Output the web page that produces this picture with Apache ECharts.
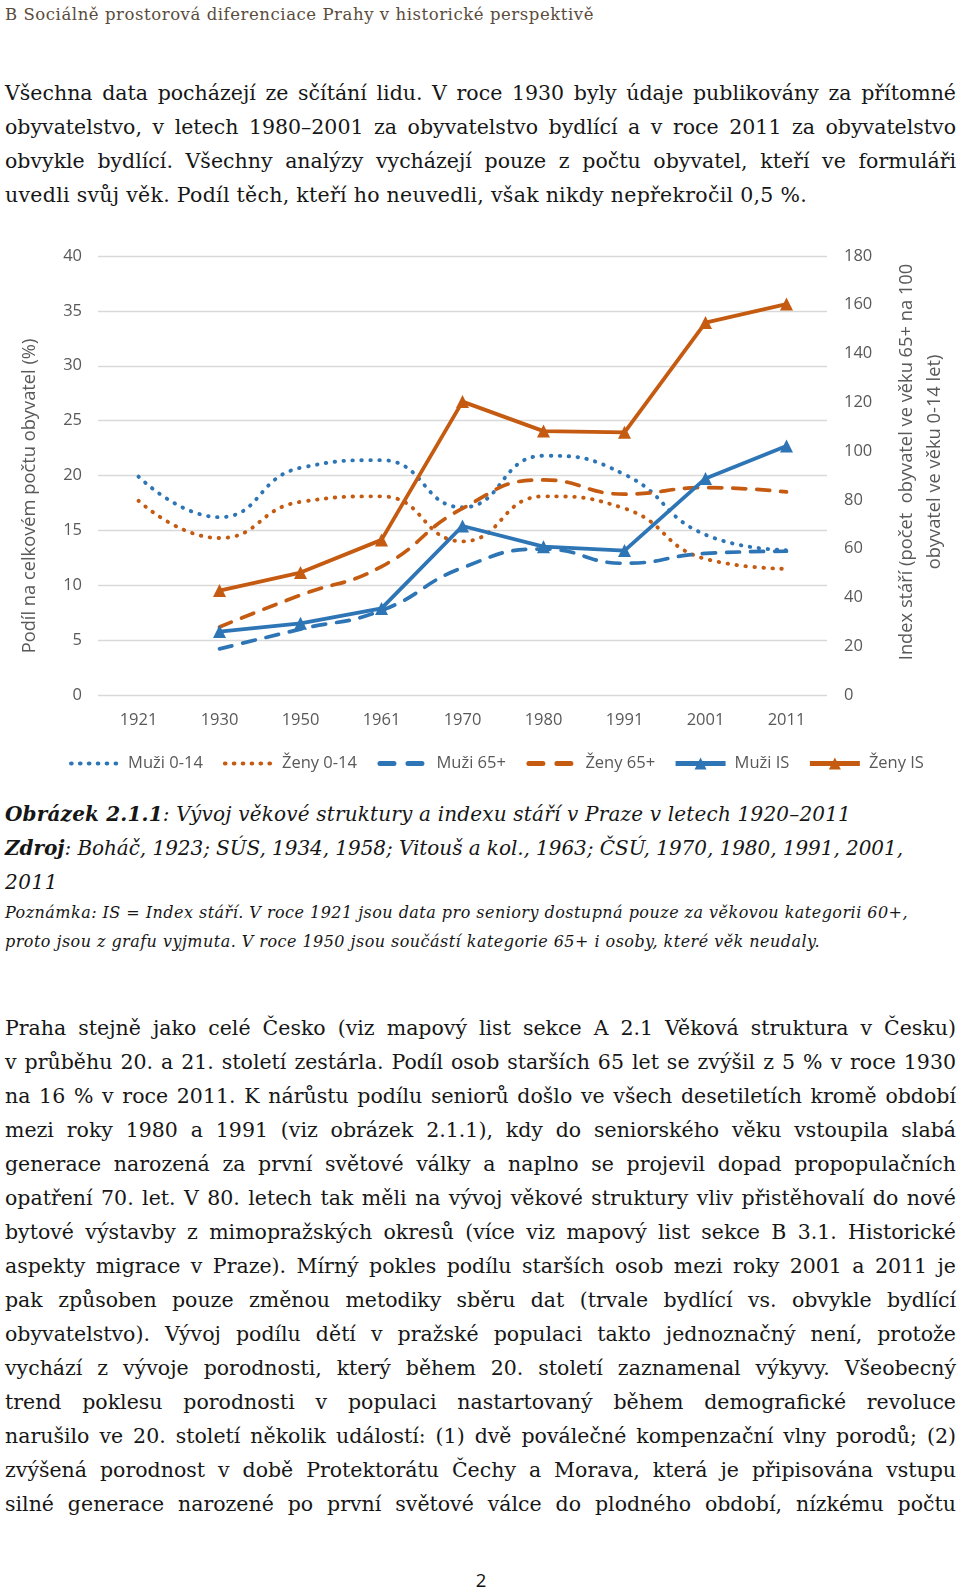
<!DOCTYPE html>
<html>
<head>
<meta charset="utf-8">
<script src="https://cdn.jsdelivr.net/npm/echarts@6/dist/echarts.min.js"></script>
<style>
  html,body{margin:0;padding:0;background:#fff;}
  body{width:960px;height:1589px;position:relative;overflow:hidden;}
  .t{position:absolute;left:5px;font-family:'DejaVu Serif',serif;color:#161616;white-space:nowrap;}
  .it{font-style:italic;}
  .j{text-align:justify;text-align-last:justify;}
  #chart{position:absolute;left:0;top:230px;width:960px;height:560px;}
</style>
</head>
<body>
<div id="chart"></div>
<script>
// ---- chart data ----
const years = ['1921','1930','1950','1961','1970','1980','1991','2001','2011'];
const muzi014 = [19.9, 16.2, 20.7, 21.4, 17.1, 21.8, 20.1, 14.6, 13.2];
const zeny014 = [17.7, 14.3, 17.6, 18.1, 14.0, 18.1, 17.0, 12.4, 11.5];
const muzi65  = [null, 4.2, 6.0, 7.7, 11.6, 13.3, 12.0, 12.9, 13.1];
const zeny65  = [null, 6.2, 9.1, 11.7, 17.0, 19.6, 18.3, 18.9, 18.5];
const muziIS  = [null, 26.0, 29.4, 35.5, 69.3, 60.8, 59.2, 88.8, 102.1];
const zenyIS  = [null, 42.8, 50.2, 63.6, 120.3, 108.2, 107.7, 152.7, 160.3];
const seriesNames = ['Muži 0-14','Ženy 0-14','Muži 65+','Ženy 65+','Muži IS','Ženy IS'];
const leftTicks = {min:0, max:40, interval:5};
const rightTicks = {min:0, max:180, interval:20};
const leftTitle = 'Podíl na celkovém počtu obyvatel (%)';
const rightTitle = 'Index stáří (počet  obyvatel ve věku 65+ na 100\nobyvatel ve věku 0-14 let)';

// ---- page text ----
const headerText = 'B Sociálně prostorová diferenciace Prahy v historické perspektivě';
const para1 = [
  'Všechna data pocházejí ze sčítání lidu. V roce 1930 byly údaje publikovány za přítomné',
  'obyvatelstvo, v letech 1980–2001 za obyvatelstvo bydlící a v roce 2011 za obyvatelstvo',
  'obvykle bydlící. Všechny analýzy vycházejí pouze z počtu obyvatel, kteří ve formuláři',
  'uvedli svůj věk. Podíl těch, kteří ho neuvedli, však nikdy nepřekročil 0,5 %.'
];
const para2 = [
  'Praha stejně jako celé Česko (viz mapový list sekce A 2.1 Věková struktura v Česku)',
  'v průběhu 20. a 21. století zestárla. Podíl osob starších 65 let se zvýšil z 5 % v roce 1930',
  'na 16 % v roce 2011. K nárůstu podílu seniorů došlo ve všech desetiletích kromě období',
  'mezi roky 1980 a 1991 (viz obrázek 2.1.1), kdy do seniorského věku vstoupila slabá',
  'generace narozená za první světové války a naplno se projevil dopad propopulačních',
  'opatření 70. let. V 80. letech tak měli na vývoj věkové struktury vliv přistěhovalí do nové',
  'bytové výstavby z mimopražských okresů (více viz mapový list sekce B 3.1. Historické',
  'aspekty migrace v Praze). Mírný pokles podílu starších osob mezi roky 2001 a 2011 je',
  'pak způsoben pouze změnou metodiky sběru dat (trvale bydlící vs. obvykle bydlící',
  'obyvatelstvo). Vývoj podílu dětí v pražské populaci takto jednoznačný není, protože',
  'vychází z vývoje porodnosti, který během 20. století zaznamenal výkyvy. Všeobecný',
  'trend poklesu porodnosti v populaci nastartovaný během demografické revoluce',
  'narušilo ve 20. století několik událostí: (1) dvě poválečné kompenzační vlny porodů; (2)',
  'zvýšená porodnost v době Protektorátu Čechy a Morava, která je připisována vstupu',
  'silné generace narozené po první světové válce do plodného období, nízkému počtu'
];

const lines = [];
function addLine(html, yc, size, opts){
  const d = document.createElement('div');
  d.className = 't' + (opts.italic ? ' it' : '');
  d.innerHTML = html;
  d.style.fontSize = size + 'px';
  d.style.lineHeight = (size*1.6) + 'px';
  d.style.top = (yc - size*0.8 - size*0.05) + 'px';
  if (opts.color) d.style.color = opts.color;
  document.body.appendChild(d);
  lines.push({el:d, target:opts.w, justify:!!opts.justify});
}
addLine(headerText, 16.5, 16.5, {w:589, color:'#5a4c3c'});
para1.forEach((s,i)=>addLine(s, 94 + i*34.1, 20.5, {w: i<3 ? 951 : 802, justify: i<3}));
addLine('<b>Obrázek 2.1.1</b>: Vývoj věkové struktury a indexu stáří v Praze v letech 1920–2011', 814.5, 20, {w:846, italic:true});
addLine('<b>Zdroj</b>: Boháč, 1923; SÚS, 1934, 1958; Vitouš a kol., 1963; ČSÚ, 1970, 1980, 1991, 2001,', 849, 20, {w:898, italic:true});
addLine('2011', 882.5, 20, {w:53, italic:true});
addLine('Poznámka: IS = Index stáří. V roce 1921 jsou data pro seniory dostupná pouze za věkovou kategorii 60+,', 914, 16, {w:903, italic:true});
addLine('proto jsou z grafu vyjmuta. V roce 1950 jsou součástí kategorie 65+ i osoby, které věk neudaly.', 942.5, 16, {w:815, italic:true});
para2.forEach((s,i)=>addLine(s, 1029 + i*34.03, 20.5, {w:951, justify:true}));

const pn = document.createElement('div');
pn.textContent = '2';
pn.style.cssText = 'position:absolute;left:471px;width:20px;text-align:center;top:1567px;font:18.5px "Open Sans",sans-serif;color:#111;';
document.body.appendChild(pn);

function fitAll(){
  lines.forEach(o=>{
    const el = o.el;
    el.classList.remove('j');
    el.style.whiteSpace='nowrap'; el.style.display='inline-block'; el.style.width='auto'; el.style.letterSpacing='0px';
    const w = el.getBoundingClientRect().width;
    const n = el.textContent.length;
    if (o.justify){
      if (w > o.target - 2) el.style.letterSpacing = ((o.target - 3 - w)/n) + 'px';
      el.style.display='block'; el.style.width=o.target+'px'; el.style.whiteSpace='normal';
      el.classList.add('j');
    } else {
      el.style.letterSpacing = ((o.target - w)/n) + 'px';
    }
  });
}
fitAll();
if (document.fonts && document.fonts.ready) document.fonts.ready.then(fitAll);

// ---- chart ----
const BLUE = '#2E75B6', ORANGE = '#C55A11', GREY = '#595959';
const FONT = 'Open Sans';
const chart = echarts.init(document.getElementById('chart'));
const dotStyle = c => ({color:c, width:3.9, type:[0.5, 8.5], cap:'round'});
const dashStyle = c => ({color:c, width:3.7, type:[13, 11], cap:'round'});
const legendLine = [
  {width:4.2, type:[0.5, 8.4], cap:'round', dashOffset:-2},
  {width:4.2, type:[0.5, 8.4], cap:'round', dashOffset:-2},
  {width:5, type:[14, 14], cap:'round', dashOffset:-2.5},
  {width:5, type:[14, 14], cap:'round', dashOffset:-2.5},
  {width:5, type:'solid'},
  {width:5, type:'solid'}
];
const legendData = seriesNames.map((n,i)=> i < 4
  ? {name:n, itemStyle:{opacity:0}, lineStyle:legendLine[i]}
  : {name:n, lineStyle:legendLine[i]});
const option = {
  animation:false,
  textStyle:{fontFamily:FONT},
  grid:{left:98, right:133, top:26, height:439},
  legend:{
    left:62, top:520, itemWidth:50, itemHeight:15, itemGap:18,
    textStyle:{fontSize:16.5, color:GREY, fontFamily:FONT, padding:[0,0,0,4]},
    data:legendData
  },
  xAxis:{
    type:'category', data:years, boundaryGap:true,
    axisLine:{show:false}, axisTick:{show:false},
    axisLabel:{color:GREY, fontSize:16.5, margin:17, fontFamily:FONT}
  },
  yAxis:[
    {type:'value', min:leftTicks.min, max:leftTicks.max, interval:leftTicks.interval,
     axisLine:{show:false}, axisTick:{show:false},
     axisLabel:{color:GREY, fontSize:16.5, margin:16, fontFamily:FONT},
     splitLine:{lineStyle:{color:'#d9d9d9', width:1.3}}},
    {type:'value', min:rightTicks.min, max:rightTicks.max, interval:rightTicks.interval,
     axisLine:{show:false}, axisTick:{show:false},
     axisLabel:{color:GREY, fontSize:16.5, margin:17, fontFamily:FONT},
     splitLine:{show:false}}
  ],
  series:[
    {name:seriesNames[0], type:'line', data:muzi014, smooth:0.5, symbol:'none', lineStyle:dotStyle(BLUE), itemStyle:{color:BLUE}},
    {name:seriesNames[1], type:'line', data:zeny014, smooth:0.5, symbol:'none', lineStyle:dotStyle(ORANGE), itemStyle:{color:ORANGE}},
    {name:seriesNames[2], type:'line', data:muzi65, smooth:0.5, symbol:'none', lineStyle:dashStyle(BLUE), itemStyle:{color:BLUE}},
    {name:seriesNames[3], type:'line', data:zeny65, smooth:0.5, symbol:'none', lineStyle:dashStyle(ORANGE), itemStyle:{color:ORANGE}},
    {name:seriesNames[4], type:'line', yAxisIndex:1, data:muziIS, symbol:'triangle', symbolSize:13, showSymbol:true,
     lineStyle:{color:BLUE, width:3.8}, itemStyle:{color:BLUE}},
    {name:seriesNames[5], type:'line', yAxisIndex:1, data:zenyIS, symbol:'triangle', symbolSize:13, showSymbol:true,
     lineStyle:{color:ORANGE, width:3.8}, itemStyle:{color:ORANGE}}
  ],
  graphic:[
    {type:'text', x:30, y:266, rotation:Math.PI/2,
     style:{text:leftTitle, fill:GREY, fontSize:18.3, fontFamily:FONT,
            align:'center', verticalAlign:'middle', textAlign:'center', textVerticalAlign:'middle'}},
    {type:'text', x:921, y:232, rotation:Math.PI/2,
     style:{text:rightTitle, fill:GREY, fontSize:18.3, fontFamily:FONT, lineHeight:28,
            align:'center', verticalAlign:'middle', textAlign:'center', textVerticalAlign:'middle'}}
  ]
};
chart.setOption(option);
</script>
</body>
</html>
